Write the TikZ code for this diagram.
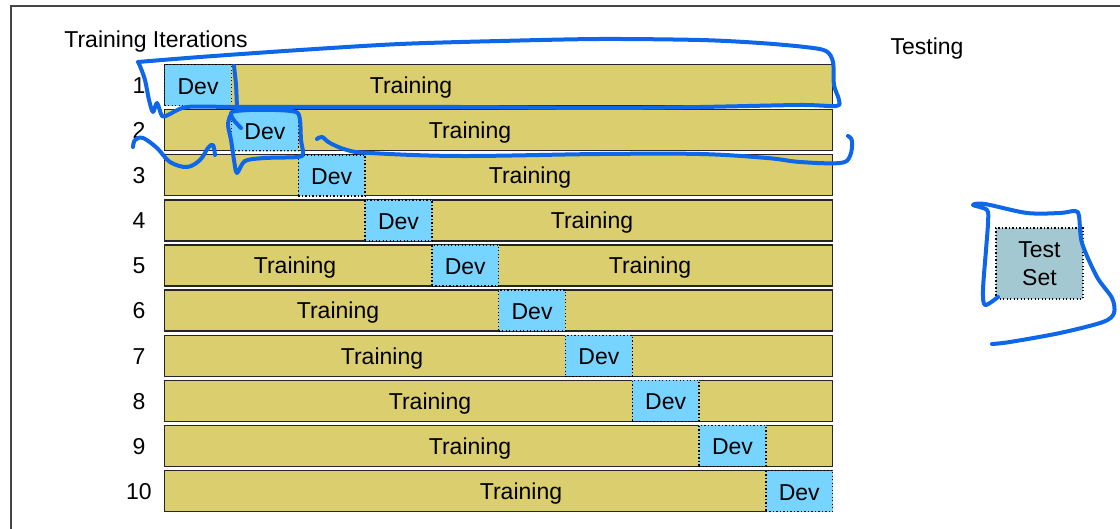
\documentclass[tikz,border=0pt]{standalone}
\usepackage{fontspec}
\setmainfont{Liberation Sans}
\definecolor{barfill}{RGB}{219,206,110}
\definecolor{devfill}{RGB}{119,212,255}
\definecolor{testfill}{RGB}{163,200,209}
\definecolor{ink}{RGB}{14,102,232}
\definecolor{framecol}{RGB}{70,70,70}
\tikzset{
  txt/.style={inner sep=0pt, font=\fontsize{23}{28}\selectfont},
  captext/.style={txt, text height=18pt, text depth=0pt},
  bar/.style={draw=black!85, line width=1.3pt, fill=barfill, minimum width=668pt,
              minimum height=41pt, inner sep=0pt, anchor=north west},
  devbox/.style={captext, anchor=north west, minimum width=66.8pt, minimum height=41pt,
              preaction={fill=devfill, draw=devfill, line width=1.5pt},
              draw=black, line width=1.35pt, dash pattern=on 1.3pt off 2.2pt},
  testbox/.style={txt, align=center, minimum width=87pt, minimum height=71pt,
              fill=testfill, draw=black, line width=1.35pt, dash pattern=on 1.3pt off 2.2pt},
  pen/.style={draw=ink, line width=4pt, line cap=round, line join=round}
}
\begin{document}
\begin{tikzpicture}[x=1pt,y=-1pt]
\useasboundingbox (0,0) rectangle (1120,529);

% frame
\draw[framecol, line width=2pt] (1120,6) -- (11,6) -- (11,529);

% headings
\node[captext] (hTrain) at (156,39) {Training Iterations};
\node[captext] (hTest) at (927,46) {Testing};

% bars, dev folds and row numbers
\foreach \i in {1,...,10}{
  \node[bar] (bar\i) at (164,{64+(\i-1)*45.1}) {};
  \node[devbox] (dev\i) at ({164+(\i-1)*66.8},{64+(\i-1)*45.1}) {Dev};
  \node[captext] (num\i) at (139,{84.5+(\i-1)*45.1}) {\i};
}

% training labels
\foreach \i/\x in {1/411,2/470,3/530,4/592,5/295,6/338,7/382,8/430,9/470,10/521}{
  \node[captext] (tr\i) at (\x,{84.5+(\i-1)*45.1}) {Training};
}
\node[captext] (tr5b) at (650,{84.5+4*45.1}) {Training};

% held-out test set
\node[testbox] (test) at (1039.5,263.5) {Test\\Set};

% hand-drawn annotations
\draw[pen] plot[smooth, tension=0.5] coordinates {
  (138,62) (200,57) (300,50) (400,44) (500,41) (600,39) (700,40) (760,43)
  (805,47) (826,51) (833,62) (834,85) (839,100) (836,106) (800,105) (700,107)
  (600,108) (460,107) (300,107) (233,107) (187,107) (168,115) (162,116)
  (157,103) (153,112) (149,100) (145,80) (140,66) (138,62)};
\draw[pen] plot[smooth] coordinates {(234,66) (236,85) (237,108)};
\draw[pen] plot[smooth, tension=0.5] coordinates {
  (241,128) (233,119) (232,112) (250,110) (275,110) (296,112) (300,120)
  (301,140) (303,153) (298,157) (265,158) (245,161) (237,173) (234,160)
  (231,140) (228,125) (230,116)};
\draw[pen] plot[smooth, tension=0.6] coordinates {
  (133,147) (135,140) (143,138) (157,148) (170,162) (187,167) (200,160)
  (208,148) (213,145) (215,155)};
\draw[pen] plot[smooth, tension=0.6] coordinates {
  (317,139) (322,137) (330,143) (347,150) (370,153) (460,156) (600,154)
  (700,154) (767,158) (800,162) (840,163) (850,156) (852,141) (848,136)};
\draw[pen] plot[smooth, tension=0.5] coordinates {
  (998,297) (985,305) (983,290) (986,250) (988,223) (987,210) (973,205)
  (985,204) (1027,213) (1060,213) (1075,211) (1079,216) (1082,243)
  (1097,277) (1112,298) (1114,313) (1103,322) (1060,333) (1010,342) (992,344)};
\end{tikzpicture}
\end{document}
